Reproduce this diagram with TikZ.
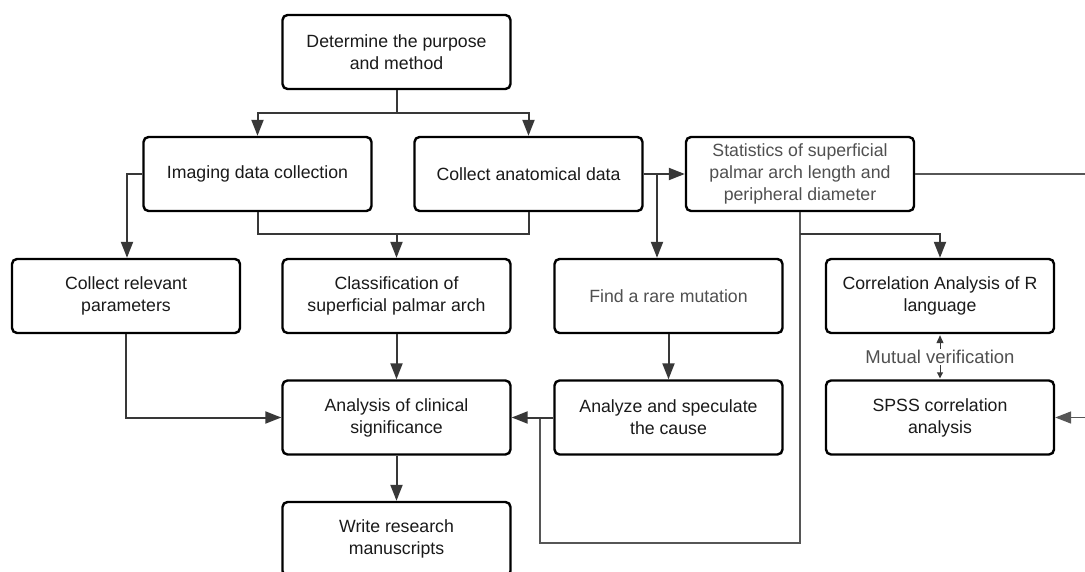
\documentclass[tikz,border=0pt]{standalone}
\usepackage{fontspec}
\setmainfont{Liberation Sans}
\usetikzlibrary{arrows.meta}
\definecolor{linec}{HTML}{383838}
\definecolor{txtc}{HTML}{1A1A1A}
\definecolor{greyt}{HTML}{505050}
\begin{document}
\begin{tikzpicture}[x=1bp,y=-1bp,
  box/.style={draw=black, line width=2.4bp, rounded corners=5bp, minimum width=228bp,
    minimum height=74bp, align=center, text=txtc, inner sep=2bp,
    font=\fontsize{17.7bp}{22bp}\selectfont},
  conn/.style={draw=linec, line width=2bp},
  thin/.style={draw=linec!85, line width=1.6bp},
  arr/.style={conn, -{Triangle[length=16bp,width=12bp]}},
  tarr/.style={thin, -{Triangle[length=16bp,width=12bp]}},
  smallarr/.style={draw=linec, line width=1bp, {Triangle[length=8bp,width=7bp]}-{Triangle[length=6bp,width=6bp]}}
]
\path[use as bounding box, clip] (0,0) rectangle (1085,572);
\fill[white] (0,0) rectangle (1085,572);

\node[box] (top) at (396.5,52) {Determine the purpose\\and method};
\node[box] (imaging) at (257.5,174) {Imaging data collection};
\node[box] (anat) at (528.5,174) {Collect anatomical data};
\node[box, text=greyt] (stat) at (800,174) {Statistics of superficial\\palmar arch length and\\peripheral diameter};
\node[box] (collect) at (126,296) {Collect relevant\\parameters};
\node[box] (classif) at (396.5,296) {Classification of\\superficial palmar arch};
\node[box, text=greyt] (find) at (668.5,296) {Find a rare mutation};
\node[box] (corr) at (940,296) {Correlation Analysis of R\\language};
\node[box] (analysis) at (396.5,417.5) {Analysis of clinical\\significance};
\node[box] (analyze) at (668.5,417.5) {Analyze and speculate\\the cause};
\node[box] (spss) at (940,417.5) {SPSS correlation\\analysis};
\node[box] (write) at (396.5,539) {Write research\\manuscripts};

% junction coordinates
\coordinate (j1) at (396.5,113);
\coordinate (j2) at (396.5,234);
\coordinate (j3) at (657,174);
\coordinate (j4) at (800,234);
\coordinate (j5) at (540,418);
\coordinate (j6) at (1096,174);
\coordinate (j7) at (800,543);
\coordinate (j8) at (127,174);

% top split
\draw[conn] (top.south) -- (j1);
\draw[arr] (j1) -| (imaging.north);
\draw[arr] (j1) -| (anat.north);

% imaging to collect relevant
\draw[arr] (imaging.west) -- (j8) -- (j8 |- collect.north);

% merge into classification
\draw[conn] (imaging.south) |- (j2) -| (anat.south);
\draw[arr] (j2) -- (classif.north);

% anatomical to statistics and find
\draw[arr] (anat.east) -- (stat.west);
\draw[arr] (j3) -- (j3 |- find.north);

% statistics outputs
\draw[thin] (stat.east) -- (j6) |- (spss.east -| j6);
\draw[tarr] (spss.east -| j6) -- (spss.east);
\draw[thin] (stat.south) -- (j7) -| (j5);
\draw[arr] (j4) -| (corr.north);

% middle column flows
\draw[arr] (classif.south) -- (analysis.north);
\draw[arr] (analysis.south) -- (write.north);
\draw[arr] (collect.south) |- (analysis.west);
\draw[arr] (find.south) -- (analyze.north);
\draw[arr] (analyze.west) -- (analysis.east);

% mutual verification
\draw[smallarr] ([yshift=-1bp]corr.south) -- node[fill=white, text=greyt, inner sep=1bp,
  font=\fontsize{18.5bp}{20bp}\selectfont] (mv) {Mutual verification} ([yshift=1bp]spss.north);
\end{tikzpicture}
\end{document}
